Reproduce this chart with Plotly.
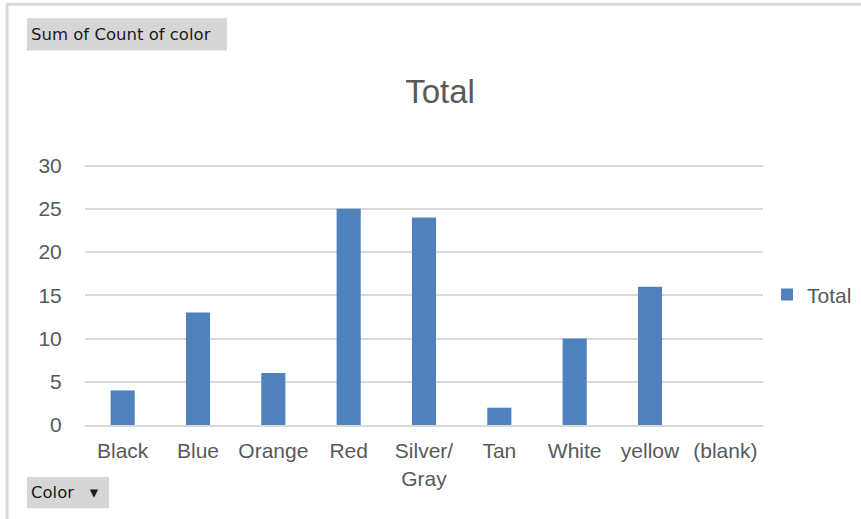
import plotly.graph_objects as go

categories = ["Black", "Blue", "Orange", "Red", "Silver/<br>Gray", "Tan", "White", "yellow", "(blank)"]
values = [4, 13, 6, 25, 24, 2, 10, 16, None]
y_ticks = [0, 5, 10, 15, 20, 25, 30]

W, H = 861, 519
L, R, T, B = 85, 763, 166, 425
YMAX = 30.3
T_EXT = B - (B - T) * YMAX / 30.0


def px(x):
    return (x - L) / (R - L)


def py(y):
    return (B - y) / (B - T_EXT)


fig = go.Figure()
fig.add_trace(go.Bar(
    x=categories, y=values, name="Total",
    marker=dict(color="#4f81bd", line=dict(width=0)),
))

grey = "#595959"
fig.update_layout(
    width=W, height=H,
    margin=dict(l=L, r=W - R, t=T_EXT, b=H - B, pad=0, autoexpand=False),
    paper_bgcolor="white", plot_bgcolor="white",
    font=dict(family="Liberation Sans, Arial, sans-serif", color=grey, size=21),
    bargap=0.68,
    title=dict(text="Total", x=440 / W, xref="container", xanchor="center",
               y=1 - 91 / H, yref="container", yanchor="middle",
               font=dict(size=33, color=grey)),
    showlegend=True,
    legend=dict(x=px(767), y=py(295), xanchor="left", yanchor="middle",
                font=dict(size=21, color=grey), itemwidth=30,
                bgcolor="rgba(0,0,0,0)"),
    xaxis=dict(showgrid=False, showline=True, linecolor="#d9d9d9", linewidth=2,
               tickfont=dict(size=21, color=grey), ticks="outside", ticklen=6,
               tickcolor="rgba(0,0,0,0)", fixedrange=True),
    yaxis=dict(range=[0, YMAX], tickvals=y_ticks, showgrid=True, gridcolor="#d9d9d9",
               gridwidth=1.5, zeroline=False, showline=False,
               tickfont=dict(size=21, color=grey), ticks="outside", ticklen=18,
               tickcolor="rgba(0,0,0,0)"),
)

shapes = []
# outer frame (top and left lines)
shapes.append(dict(type="line", xref="paper", yref="paper", x0=px(6), x1=px(861),
                   y0=py(5), y1=py(5), line=dict(color="#d9d9d9", width=3)))
shapes.append(dict(type="line", xref="paper", yref="paper", x0=px(7), x1=px(7),
                   y0=py(5), y1=py(519), line=dict(color="#d9d9d9", width=3)))
# field buttons
shapes.append(dict(type="rect", xref="paper", yref="paper", x0=px(27), x1=px(227),
                   y0=py(51), y1=py(19), fillcolor="#d6d6d6", line=dict(width=0),
                   layer="below"))
shapes.append(dict(type="rect", xref="paper", yref="paper", x0=px(27), x1=px(109),
                   y0=py(508), y1=py(477), fillcolor="#d6d6d6", line=dict(width=0),
                   layer="below"))
fig.update_layout(shapes=shapes)

fig.add_annotation(text="Sum of Count of color", xref="paper", yref="paper",
                   x=px(29), y=py(35), xanchor="left", yanchor="middle",
                   showarrow=False, font=dict(family="DejaVu Sans, sans-serif", size=16.5, color="#1a1a1a"))
fig.add_annotation(text="Color   \u25be", xref="paper", yref="paper",
                   x=px(29), y=py(492), xanchor="left", yanchor="middle",
                   showarrow=False, font=dict(family="DejaVu Sans, sans-serif", size=16.5, color="#1a1a1a"))

fig.write_html("out.html", config={"displayModeBar": False},
               post_script="document.body.style.margin='0';")
